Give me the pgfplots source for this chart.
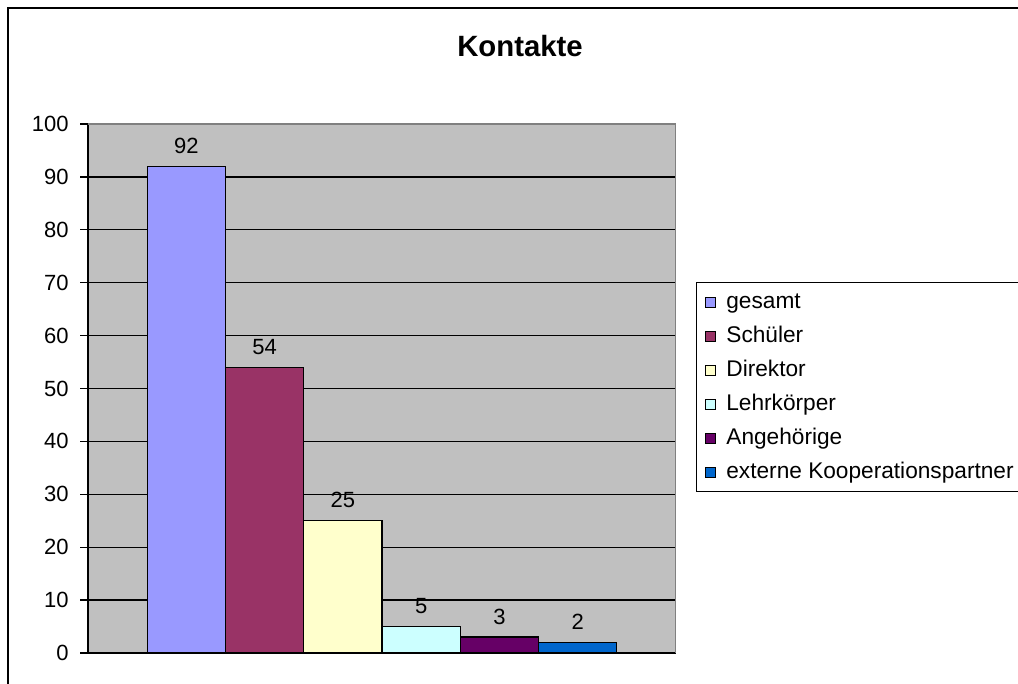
\documentclass[border=0pt]{standalone}
\usepackage{pgfplots}
\pgfplotsset{compat=1.18}
\usepackage{fontspec}
\setmainfont{Liberation Sans}

\definecolor{plotgray}{HTML}{C0C0C0}
\definecolor{framegray}{HTML}{808080}
\definecolor{cgesamt}{HTML}{9999FF}
\definecolor{cschueler}{HTML}{993366}
\definecolor{cdirektor}{HTML}{FFFFCC}
\definecolor{clehrer}{HTML}{CCFFFF}
\definecolor{cangeh}{HTML}{660066}
\definecolor{cextern}{HTML}{0066CC}

\begin{document}
\begin{tikzpicture}
\useasboundingbox (0,0) rectangle (763.5pt,513pt);
\clip (0,0) rectangle (763.5pt,513pt);
% outer chart frame (right and bottom lie outside the picture)
\draw[line width=1.5pt] (6pt,-5pt) -- (6pt,507pt) -- (780pt,507pt);
\node[font=\bfseries\fontsize{22}{26}\selectfont, anchor=base] at (390pt,470.25pt) {Kontakte};

\begin{axis}[
    at={(66pt,23.25pt)}, anchor=south west,
    scale only axis, width=441pt, height=396.75pt,
    ybar=0pt, bar width=58.7pt,
    xmin=-0.5, xmax=0.5, xtick=\empty,
    ymin=0, ymax=100, ytick={0,10,...,100},
    axis lines*=left,
    axis line style={-, black, line width=1pt},
    tick align=outside, major tick length=6pt,
    tick style={black, line width=1pt},
    ymajorgrids=true,
    grid style={black, line width=1pt},
    axis background/.style={fill=plotgray},
    /pgf/number format/assume math mode=true,
    ticklabel style={font=\fontsize{16.5}{19}\selectfont},
    yticklabel style={xshift=-5pt},
    nodes near coords,
    nodes near coords style={font=\fontsize{16.5}{19}\selectfont, inner sep=0pt, anchor=south, yshift=9pt},
    legend cell align=left,
    legend style={at={(1.034,0.701)}, anchor=north west,
        draw=black, line width=1pt, fill=white,
        font=\fontsize{17}{20}\selectfont,
        inner xsep=6pt, inner ysep=4.5pt, row sep=5.5pt,
        nodes={text height=12.5pt, text depth=3.5pt},
        /tikz/every odd column/.append style={column sep=6pt}},
    legend image code/.code={
        \draw[#1, draw=black, line width=0.8pt] (0pt,-3.75pt) rectangle (7.5pt,3.75pt);
    },
]
\addplot[fill=cgesamt, draw=black, line width=1pt] coordinates {(0,92)};
\addlegendentry{gesamt}
\addplot[fill=cschueler, draw=black, line width=1pt] coordinates {(0,54)};
\addlegendentry{Schüler}
\addplot[fill=cdirektor, draw=black, line width=1pt] coordinates {(0,25)};
\addlegendentry{Direktor}
\addplot[fill=clehrer, draw=black, line width=1pt] coordinates {(0,5)};
\addlegendentry{Lehrkörper}
\addplot[fill=cangeh, draw=black, line width=1pt] coordinates {(0,3)};
\addlegendentry{Angehörige}
\addplot[fill=cextern, draw=black, line width=1pt] coordinates {(0,2)};
\addlegendentry{externe Kooperationspartner\hspace*{20pt}}
% plot-area frame: grey on top and right
\draw[framegray, line width=1.5pt] (rel axis cs:0,1) -- (rel axis cs:1,1) -- (rel axis cs:1,0);
\end{axis}
\end{tikzpicture}
\end{document}
